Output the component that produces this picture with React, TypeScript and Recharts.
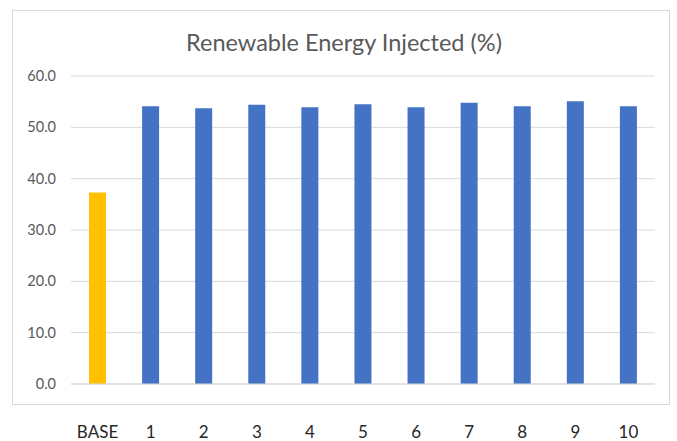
import React from 'react';
import { BarChart, Bar, XAxis, YAxis, CartesianGrid, Cell } from 'recharts';

const categories = ['BASE', '1', '2', '3', '4', '5', '6', '7', '8', '9', '10'];
const injected = [37.3, 54.1, 53.7, 54.4, 53.9, 54.5, 53.9, 54.8, 54.1, 55.1, 54.1];
const yTicks = [0, 10, 20, 30, 40, 50, 60];

const BASE_COLOR = '#FFC000';
const RUN_COLOR = '#4472C4';
const FONT = 'Lato, "Open Sans", sans-serif';

const data = categories.map((name, i) => ({ name, value: injected[i] }));

export default function App() {
  return (
    <div style={{ position: 'absolute', left: 0, top: 0, width: 677, height: 441, background: '#fff', fontFamily: FONT }}>
      {/* chart frame */}
      <div
        style={{
          position: 'absolute',
          left: 12,
          top: 10,
          width: 658,
          height: 395,
          border: '1px solid #d9d9d9',
          boxSizing: 'border-box',
        }}
      />
      <div
        style={{
          position: 'absolute',
          left: 0,
          top: 27,
          width: 688,
          textAlign: 'center',
          fontSize: 23.5,
          lineHeight: '30px',
          color: '#595959',
        }}
      >
        Renewable Energy Injected (%)
      </div>
      <div style={{ position: 'absolute', left: 0, top: 0 }}>
        <BarChart
          width={677}
          height={441}
          data={data}
          margin={{ top: 76, right: 22, left: 11, bottom: 0 }}
        >
          <CartesianGrid vertical={false} stroke="#d9d9d9" />
          <XAxis
            dataKey="name"
            height={57}
            axisLine={{ stroke: '#d9d9d9' }}
            tickLine={false}
            tickMargin={36}
            interval={0}
            tick={{ fill: '#262626', fontSize: 17, fontFamily: FONT }}
          />
          <YAxis
            width={60}
            domain={[0, 60]}
            ticks={yTicks}
            axisLine={false}
            tickLine={false}
            tickMargin={9}
            tickFormatter={(v: number) => v.toFixed(1)}
            tick={{ fill: '#595959', fontSize: 14.5, fontFamily: FONT }}
          />
          <Bar dataKey="value" barSize={17} isAnimationActive={false}>
            {data.map((d, i) => (
              <Cell key={d.name} fill={i === 0 ? BASE_COLOR : RUN_COLOR} />
            ))}
          </Bar>
        </BarChart>
      </div>
    </div>
  );
}
